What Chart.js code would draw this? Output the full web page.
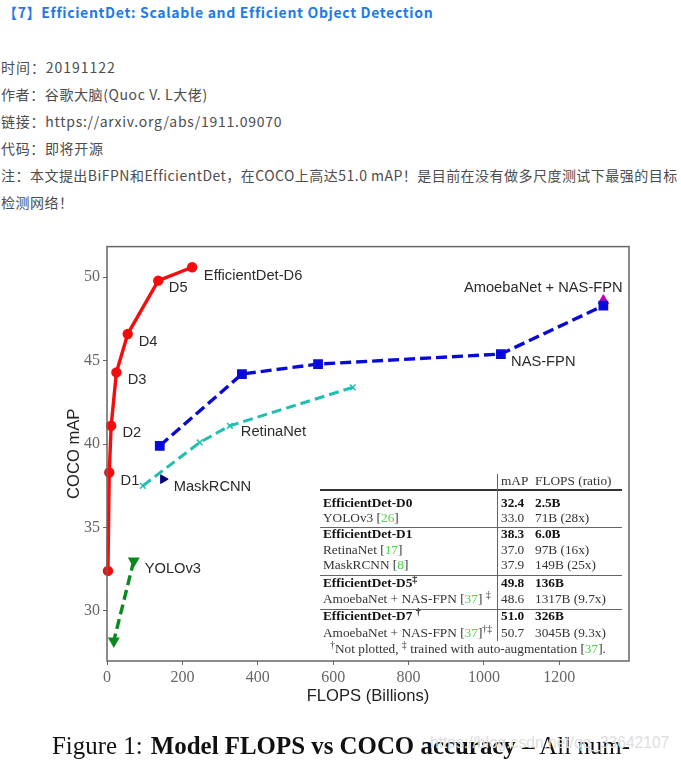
<!DOCTYPE html>
<html>
<head>
<meta charset="utf-8">
<script src="https://cdn.jsdelivr.net/npm/chart.js@4"></script>
<style>
  html, body { margin: 0; padding: 0; background: #fff; overflow: hidden; }
  body { width: 681px; height: 761px; position: relative; }
  .abs { position: absolute; white-space: nowrap; }
  #heading { left: 3px; top: 2px; font: bold 14px/20px "Noto Sans CJK SC", sans-serif; color: #1f7ae8; letter-spacing: 0.66px; }
  .info { left: 1px; font: 14px/20px "Noto Sans CJK SC", sans-serif; color: #4d4d4d; letter-spacing: 0.35px; }
  #chartBox { position: absolute; left: 60px; top: 234px; width: 580px; height: 482px; filter: blur(0.35px); }
  #table { filter: blur(0.35px); }
  .cell { position: absolute; white-space: nowrap; font: 13.3px/16px "Liberation Serif", serif; color: #333; }
  .cell.bold { font-weight: bold; color: #111; }
  .cell i { font-style: normal; color: #3fdc3f; }
  .cell sup { font-size: 10px; line-height: 0; }
  .rule { position: absolute; background: #444; }
  #caption { left: 52px; top: 732px; font: 24.9px/28px "Liberation Serif", serif; color: #111; filter: blur(0.35px); }
  #caption b { margin-left: 2px; }
  #watermark { left: 430px; top: 733px; font: 15.6px/20px "Liberation Sans", sans-serif; color: #dedede; }
</style>
</head>
<body>
<div id="heading" class="abs">【7】EfficientDet: Scalable and Efficient Object Detection</div>
<div class="abs info" style="top:57px;letter-spacing:0.95px">时间：20191122</div>
<div class="abs info" style="top:84px;letter-spacing:0.6px">作者：谷歌大脑(Quoc V. L大佬)</div>
<div class="abs info" style="top:111px;letter-spacing:0.75px">链接：https://arxiv.org/abs/1911.09070</div>
<div class="abs info" style="top:138px;letter-spacing:0.65px">代码：即将开源</div>
<div class="abs info" style="top:165px;letter-spacing:0.47px">注：本文提出BiFPN和EfficientDet，在COCO上高达51.0 mAP！是目前在没有做多尺度测试下最强的目标</div>
<div class="abs info" style="top:192px;letter-spacing:0.47px">检测网络！</div>

<div id="chartBox"><canvas id="chart" width="580" height="482"></canvas></div>
<div id="table"></div>

<div id="caption" class="abs">Figure 1: <b>Model FLOPS vs COCO accuracy –</b> All num-</div>
<div id="watermark" class="abs">https://blog.csdn.net/qq_33642107</div>

<script>
const xTicks = [0, 200, 400, 600, 800, 1000, 1200];
const yTicks = [30, 35, 40, 45, 50];

const efficientFlops = [2.5, 6, 11, 25, 55, 136, 226];
const efficientMap = [32.4, 38.3, 41.1, 44.3, 46.6, 49.8, 50.6];
const nasFlops = [140, 358, 560, 1045, 1317];
const nasMap = [39.9, 44.2, 44.8, 45.4, 48.3];
const retinaFlops = [95, 246, 326, 652];
const retinaMap = [37.5, 40.1, 41.1, 43.4];
const yoloFlops = [71, 18];
const yoloMap = [33.0, 28.2];
const maskFlops = [149];
const maskMap = [37.9];
const amoebaFlops = [1317];
const amoebaMap = [48.6];

const labelTexts = ['EfficientDet-D6', 'D5', 'D4', 'D3', 'D2', 'D1', 'MaskRCNN', 'RetinaNet', 'NAS-FPN', 'AmoebaNet + NAS-FPN', 'YOLOv3'];
const labelFlops = [257, 164, 84, 55, 41, 36, 177, 355, 1072, 947, 100];
const labelMap = [50.1, 49.34, 46.1, 43.85, 40.7, 37.8, 37.45, 40.75, 44.9, 49.34, 32.5];

const tableNames = [
  'EfficientDet-D0', 'YOLOv3 [<i>26</i>]', 'EfficientDet-D1', 'RetinaNet [<i>17</i>]', 'MaskRCNN [<i>8</i>]',
  'EfficientDet-D5<sup>‡</sup>', 'AmoebaNet + NAS-FPN [<i>37</i>] <sup>‡</sup>',
  'EfficientDet-D7 <sup>†</sup>', 'AmoebaNet + NAS-FPN [<i>37</i>]<sup>†‡</sup>'
];
const tableMap = ['32.4', '33.0', '38.3', '37.0', '37.9', '49.8', '48.6', '51.0', '50.7'];
const tableFlops = ['2.5B', '71B (28x)', '6.0B', '97B (16x)', '149B (25x)', '136B', '1317B (9.7x)', '326B', '3045B (9.3x)'];
const tableBold = [true, false, true, false, false, true, false, true, false];
const tableRowTop = [495, 510, 526, 542, 557, 575, 591, 608, 625];

function toPoints(xs, ys) {
  return xs.map((x, i) => ({ x: x, y: ys[i] }));
}

function addCell(html, left, top, cls) {
  const el = document.createElement('div');
  el.className = 'cell ' + (cls || '');
  el.style.left = left + 'px';
  el.style.top = top + 'px';
  el.innerHTML = html;
  document.getElementById('table').appendChild(el);
}

function addRule(left, top, width, height, color) {
  const el = document.createElement('div');
  el.className = 'rule';
  el.style.cssText = `left:${left}px;top:${top}px;width:${width}px;height:${height}px;background:${color}`;
  document.getElementById('table').appendChild(el);
}

tableNames.forEach((name, i) => {
  const cls = tableBold[i] ? 'bold' : '';
  addCell(name, 323, tableRowTop[i], cls);
  addCell(tableMap[i], 501, tableRowTop[i], cls);
  addCell(tableFlops[i], 535, tableRowTop[i], cls);
});
addCell('mAP', 501, 473);
addCell('FLOPS (ratio)', 535, 473);
addCell('<sup>†</sup>Not plotted, <sup>‡</sup> trained with auto-augmentation [<i>37</i>].', 330, 641);
addRule(320, 489, 302, 2, '#333');
addRule(320, 527, 302, 1, '#666');
addRule(320, 575, 302, 1, '#666');
addRule(320, 609, 302, 1, '#666');
addRule(497, 474, 1, 167, '#666');

const frameAndLabels = {
  id: 'frameAndLabels',
  afterDatasetsDraw(chart) {
    const { ctx, chartArea: a, scales } = chart;
    ctx.save();
    ctx.strokeStyle = '#666';
    ctx.lineWidth = 1.5;
    ctx.strokeRect(a.left, a.top, a.right - a.left, a.bottom - a.top);
    ctx.fillStyle = '#2b2b2b';
    ctx.font = '14.7px "Liberation Sans", sans-serif';
    ctx.textBaseline = 'middle';
    labelTexts.forEach((t, i) => {
      ctx.fillText(t, scales.x.getPixelForValue(labelFlops[i]), scales.y.getPixelForValue(labelMap[i]));
    });
    ctx.restore();
  }
};

function axisOptions(min, max, tickValues, title, titlePadding) {
  return {
    type: 'linear',
    min: min,
    max: max,
    afterBuildTicks(scale) { scale.ticks = tickValues.map(v => ({ value: v })); },
    ticks: {
      color: '#666',
      font: { family: '"Liberation Serif", serif', size: 16 },
      padding: 3,
      maxRotation: 0,
      autoSkip: false,
      callback: v => String(v)
    },
    grid: { drawOnChartArea: false, drawTicks: true, tickLength: 4, tickColor: '#666', tickWidth: 1 },
    border: { display: false },
    title: {
      display: true,
      text: title,
      color: '#222',
      font: { family: '"Liberation Sans", sans-serif', size: 16.6 },
      padding: titlePadding
    }
  };
}

const xAxis = axisOptions(0, 1385, xTicks, 'FLOPS (Billions)', { top: 0, bottom: 10 });
xAxis.afterFit = scale => { scale.height = 55; };
const yAxis = axisOptions(27, 51.84, yTicks, 'COCO mAP', { top: 4, bottom: 2 });
yAxis.afterFit = scale => { scale.width = 47; };

new Chart(document.getElementById('chart').getContext('2d'), {
  type: 'scatter',
  data: {
    datasets: [
      { label: 'AmoebaNet', data: toPoints(amoebaFlops, amoebaMap), showLine: false, pointStyle: 'triangle',
        pointRadius: 6, backgroundColor: '#c000b0', borderColor: '#c000b0', order: 6 },
      { label: 'NAS-FPN', data: toPoints(nasFlops, nasMap), showLine: true, borderDash: [11, 5], borderWidth: 3.4,
        borderColor: '#0a0ad6', backgroundColor: '#0000f0', pointStyle: 'rect', pointRadius: 4.5, order: 5 },
      { label: 'RetinaNet', data: toPoints(retinaFlops, retinaMap), showLine: true, borderDash: [10, 5], borderWidth: 3,
        borderColor: '#1fbfb0', backgroundColor: '#1fbfb0', pointStyle: 'crossRot', pointRadius: 4,
        pointBorderWidth: 1.5, order: 4 },
      { label: 'MaskRCNN', data: toPoints(maskFlops, maskMap), showLine: false, pointStyle: 'triangle', rotation: 90,
        pointRadius: 5, backgroundColor: '#000080', borderColor: '#000080', order: 3 },
      { label: 'YOLOv3', data: toPoints(yoloFlops, yoloMap), showLine: true, borderDash: [10, 5], borderWidth: 3.4,
        borderColor: '#0a8a1e', backgroundColor: '#0a8a1e', pointStyle: 'triangle', rotation: 180, pointRadius: 3.5, order: 2 },
      { label: 'EfficientDet', data: toPoints(efficientFlops, efficientMap), showLine: true, borderWidth: 3.4,
        borderColor: '#f50c0c', backgroundColor: '#f50c0c', pointStyle: 'circle', pointRadius: 3.5, order: 1 }
    ]
  },
  options: {
    responsive: false,
    animation: false,
    clip: false,
    layout: { padding: { left: 0, right: 11, top: 0, bottom: 0 } },
    plugins: { legend: { display: false }, tooltip: { enabled: false } },
    scales: { x: xAxis, y: yAxis }
  },
  plugins: [frameAndLabels]
});
</script>
</body>
</html>
